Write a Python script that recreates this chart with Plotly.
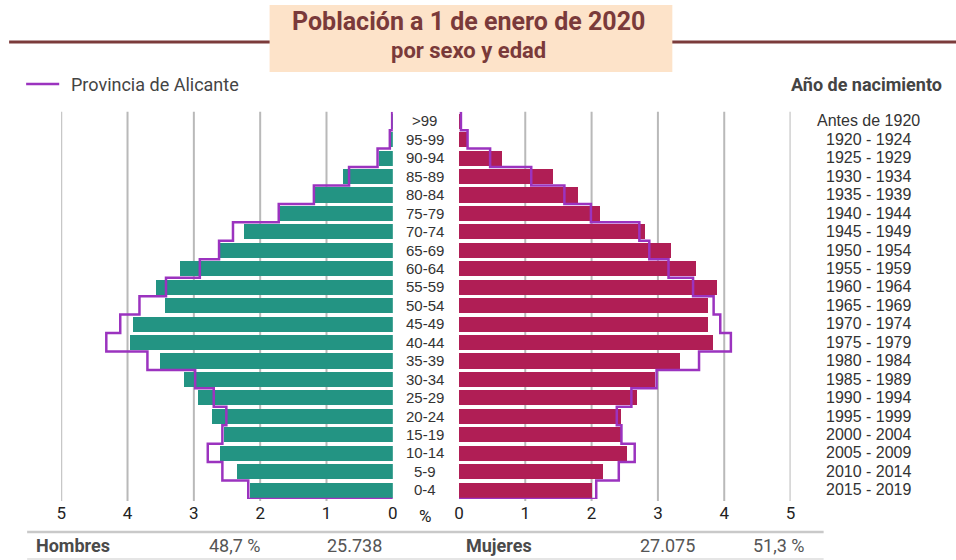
import plotly.graph_objects as go

# ---------------- data (bottom row first: 0-4 ... >99) ----------------
ages = ["0-4", "5-9", "10-14", "15-19", "20-24", "25-29", "30-34", "35-39", "40-44",
        "45-49", "50-54", "55-59", "60-64", "65-69", "70-74", "75-79", "80-84",
        "85-89", "90-94", "95-99", ">99"]
births = ["2015 - 2019", "2010 - 2014", "2005 - 2009", "2000 - 2004", "1995 - 1999",
          "1990 - 1994", "1985 - 1989", "1980 - 1984", "1975 - 1979", "1970 - 1974",
          "1965 - 1969", "1960 - 1964", "1955 - 1959", "1950 - 1954", "1945 - 1949",
          "1940 - 1944", "1935 - 1939", "1930 - 1934", "1925 - 1929", "1920 - 1924",
          "Antes de 1920"]
men_local = [2.15, 2.34, 2.60, 2.54, 2.73, 2.93, 3.14, 3.50, 3.96, 3.91, 3.43,
             3.57, 3.21, 2.64, 2.24, 1.72, 1.18, 0.75, 0.20, 0.04, 0.01]
men_prov = [2.18, 2.57, 2.79, 2.57, 2.51, 2.70, 2.98, 3.70, 4.32, 4.11, 3.82,
            3.42, 2.91, 2.62, 2.41, 1.72, 1.19, 0.66, 0.23, 0.045, 0.01]
women_local = [2.00, 2.17, 2.53, 2.44, 2.44, 2.69, 2.96, 3.33, 3.83, 3.75, 3.75,
               3.89, 3.58, 3.19, 2.80, 2.13, 1.80, 1.42, 0.65, 0.12, 0.03]
women_prov = [2.07, 2.41, 2.65, 2.45, 2.38, 2.60, 2.98, 3.62, 4.10, 3.94, 3.84,
              3.53, 3.16, 2.87, 2.72, 1.99, 1.59, 1.09, 0.47, 0.13, 0.03]
tick_vals = [0, 1, 2, 3, 4, 5]
tick_text = ["0", "1", "2", "3", "4", "5"]
summary_men = ("Hombres", "48,7 %", "25.738")
summary_women = ("Mujeres", "27.075", "51,3 %")
title = "Población a 1 de enero de 2020"
subtitle = "por sexo y edad"
legend_label = "Provincia de Alicante"

W, H = 956, 560
TEAL = "#239483"
CRIMSON = "#b01e55"
PURPLE = "#9b33bf"
GRID = "#b9b9b9"
TITLE_C = "#7a3a3a"
FONT = "Roboto"

rows = list(range(len(ages)))


def px(x):
    # horizontal pixel position -> paper fraction (slight calibration)
    return (x - 5.9) / 0.9877 / W


def py(y):
    return 1 - y / H


def step_outline(vals):
    xs, ys = [0], [-0.5]
    for i, v in enumerate(vals):
        xs += [v, v]
        ys += [i - 0.5, i + 0.5]
    return xs, ys


fig = go.Figure()

fig.add_trace(go.Bar(x=men_local, y=rows, orientation="h", marker_color=TEAL,
                     marker_line_width=0, width=0.82, xaxis="x", yaxis="y",
                     showlegend=False))
fig.add_trace(go.Bar(x=women_local, y=rows, orientation="h", marker_color=CRIMSON,
                     marker_line_width=0, width=0.82, xaxis="x2", yaxis="y",
                     showlegend=False))
mx, my = step_outline(men_prov)
fig.add_trace(go.Scatter(x=mx, y=my, mode="lines", line=dict(color=PURPLE, width=2.5),
                         xaxis="x", yaxis="y", showlegend=False, cliponaxis=False))
wx, wy = step_outline(women_prov)
fig.add_trace(go.Scatter(x=wx, y=wy, mode="lines", line=dict(color=PURPLE, width=2.5),
                         xaxis="x2", yaxis="y", showlegend=False, cliponaxis=False))

axis_common = dict(showgrid=False, zeroline=False, showline=False, ticks="",
                   tickvals=tick_vals, ticktext=tick_text, ticklabelstandoff=2,
                   tickfont=dict(family=FONT, size=17, color="#222"),
                   fixedrange=True)
fig.update_layout(
    width=W, height=H, margin=dict(l=0, r=0, t=0, b=0),
    paper_bgcolor="white", plot_bgcolor="rgba(0,0,0,0)",
    bargap=0,
    xaxis=dict(domain=[px(62), px(393)], range=[5, 0], anchor="y", **axis_common),
    xaxis2=dict(domain=[px(459), px(790)], range=[0, 5], anchor="y", **axis_common),
    yaxis=dict(domain=[py(499), py(111.7)], range=[-0.5, 20.5], visible=False,
               fixedrange=True),
)

shapes = []
# gridlines (behind bars)
for v in [1, 2, 3, 4, 5]:
    for xr in ["x", "x2"]:
        shapes.append(dict(type="line", xref=xr, yref="paper", x0=v, x1=v,
                           y0=py(501), y1=py(111.7), layer="below",
                           line=dict(color=GRID, width=2)))
# header line and title box
shapes.append(dict(type="line", xref="paper", yref="paper", x0=px(10), x1=px(962),
                   y0=py(42), y1=py(42), line=dict(color="#7b3b3b", width=3)))
shapes.append(dict(type="rect", xref="paper", yref="paper", x0=px(270), x1=px(672),
                   y0=py(72), y1=py(5), fillcolor="#fde3c9", line=dict(width=0)))
# legend line
shapes.append(dict(type="line", xref="paper", yref="paper", x0=px(27), x1=px(60),
                   y0=py(84), y1=py(84), line=dict(color=PURPLE, width=2.5)))
# summary table lines
shapes.append(dict(type="line", xref="paper", yref="paper", x0=px(28), x1=px(823),
                   y0=py(532), y1=py(532), line=dict(color="#c9c9c9", width=2.5)))
shapes.append(dict(type="line", xref="paper", yref="paper", x0=px(28), x1=px(823),
                   y0=py(559), y1=py(559), line=dict(color="#dddddd", width=1.5)))
fig.update_layout(shapes=shapes)

ann = []
ann.append(dict(x=px(469), y=py(22), xref="paper", yref="paper", text="<b>" + title + "</b>",
                showarrow=False, font=dict(family=FONT, size=25, color=TITLE_C),
                xanchor="center", yanchor="middle"))
ann.append(dict(x=px(469), y=py(50), xref="paper", yref="paper", text="<b>" + subtitle + "</b>",
                showarrow=False, font=dict(family=FONT, size=22, color=TITLE_C),
                xanchor="center", yanchor="middle"))
ann.append(dict(x=px(70), y=py(84), xref="paper", yref="paper", text=legend_label,
                showarrow=False, font=dict(family=FONT, size=18, color="#444"),
                xanchor="left", yanchor="middle"))
ann.append(dict(x=px(943), y=py(84), xref="paper", yref="paper", text="<b>Año de nacimiento</b>",
                showarrow=False, font=dict(family=FONT, size=18, color="#444"),
                xanchor="right", yanchor="middle"))
for i in rows:
    ann.append(dict(x=px(425), y=i, xref="paper", yref="y", text=ages[i].replace(">", "&gt;"),
                    showarrow=False, font=dict(family="Liberation Sans", size=15, color="#333"),
                    xanchor="center", yanchor="middle"))
    ann.append(dict(x=px(868), y=i, xref="paper", yref="y", text=births[i],
                    showarrow=False, font=dict(family="Liberation Sans", size=16, color="#333"),
                    xanchor="center", yanchor="middle"))
ann.append(dict(x=px(425), y=py(516), xref="paper", yref="paper", text="%",
                showarrow=False, font=dict(family=FONT, size=17, color="#222"),
                xanchor="center", yanchor="middle"))
# summary row
ty = py(545.5)
ann.append(dict(x=px(35), y=ty, xref="paper", yref="paper", text="<b>" + summary_men[0] + "</b>",
                showarrow=False, font=dict(family=FONT, size=18, color="#4a4a4a"),
                xanchor="left", yanchor="middle"))
ann.append(dict(x=px(263), y=ty, xref="paper", yref="paper", text=summary_men[1],
                showarrow=False, font=dict(family=FONT, size=18, color="#555"),
                xanchor="right", yanchor="middle"))
ann.append(dict(x=px(325), y=ty, xref="paper", yref="paper", text=summary_men[2],
                showarrow=False, font=dict(family=FONT, size=18, color="#555"),
                xanchor="left", yanchor="middle"))
ann.append(dict(x=px(464), y=ty, xref="paper", yref="paper", text="<b>" + summary_women[0] + "</b>",
                showarrow=False, font=dict(family=FONT, size=18, color="#4a4a4a"),
                xanchor="left", yanchor="middle"))
ann.append(dict(x=px(638), y=ty, xref="paper", yref="paper", text=summary_women[1],
                showarrow=False, font=dict(family=FONT, size=18, color="#555"),
                xanchor="left", yanchor="middle"))
ann.append(dict(x=px(806), y=ty, xref="paper", yref="paper", text=summary_women[2],
                showarrow=False, font=dict(family=FONT, size=18, color="#555"),
                xanchor="right", yanchor="middle"))
fig.update_layout(annotations=ann)

post = ("document.documentElement.style.margin='0';"
        "document.documentElement.style.overflow='hidden';"
        "document.body.style.margin='0';"
        "document.body.style.overflow='hidden';"
        "var g=document.getElementById('{plot_id}');"
        "g.style.overflow='hidden';"
        "document.querySelectorAll('.svg-container,.plot-container').forEach(function(e){e.style.display='block';});")
fig.write_html("out.html", config={"displayModeBar": False}, post_script=post)
